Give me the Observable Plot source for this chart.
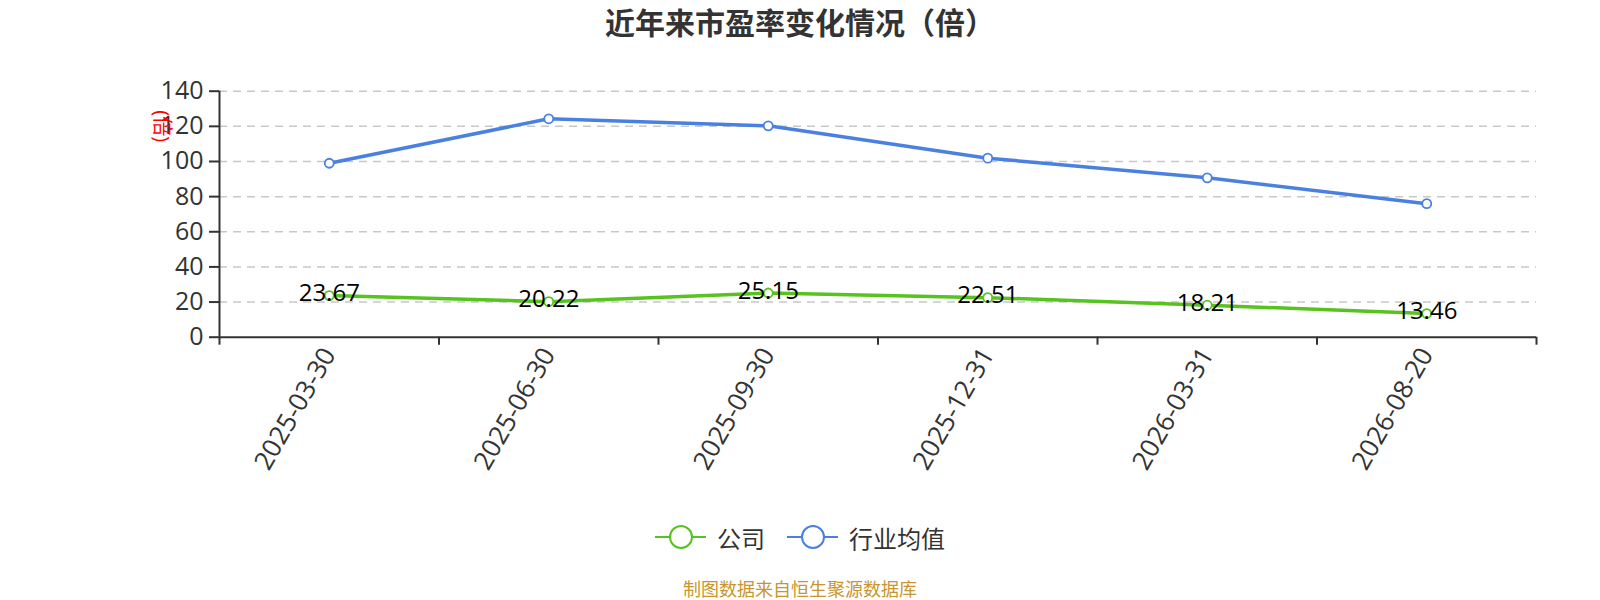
<!DOCTYPE html>
<html><head><meta charset="utf-8">
<script src="https://cdn.jsdelivr.net/npm/d3@7"></script>
<script src="https://cdn.jsdelivr.net/npm/@observablehq/plot@0.6"></script>
<style>
body{margin:0;background:#fff;font-family:"Open Sans","Noto Sans CJK SC",sans-serif;}
#wrap{position:relative;width:1600px;height:600px;overflow:hidden;background:#fff}
#title{position:absolute;left:0;top:0;width:1600px;height:42px;line-height:42px;text-align:center;font-size:30px;font-weight:bold;color:#333;font-family:"Noto Sans CJK SC",sans-serif}
#chart{position:absolute;left:0;top:50px}
#legend{position:absolute;left:0;top:516px;width:1600px;height:42px;display:flex;justify-content:center;align-items:center;font-size:24px;color:#333;font-family:"Noto Sans CJK SC",sans-serif}
.item{display:flex;align-items:center;margin:0 11px}
.sym{position:relative;width:51px;height:26px;margin-right:11px}
.sym .ln{position:absolute;left:0;top:12px;width:51px;height:2px}
.sym .cc{position:absolute;left:13.5px;top:1px;width:20px;height:20px;border-radius:50%;background:#fff;border:2px solid}
#caption{position:absolute;left:0;top:578px;width:1600px;height:20px;line-height:20px;text-align:center;font-size:18px;color:#c8952e;font-family:"Noto Sans CJK SC",sans-serif}
</style></head>
<body>
<div id="wrap">
  <div id="title"></div>
  <div id="chart"></div>
  <div id="legend"></div>
  <div id="caption"></div>
</div>
<script>
const titleText = "近年来市盈率变化情况（倍）";
const captionText = "制图数据来自恒生聚源数据库";
const yAxisName = "(倍)";
const dates = ["2025-03-30","2025-06-30","2025-09-30","2025-12-31","2026-03-31","2026-08-20"];
const company = [23.67, 20.22, 25.15, 22.51, 18.21, 13.46];
const industry = [99.0, 124.3, 120.3, 101.9, 90.7, 76.0];
const yTicks = [0, 20, 40, 60, 80, 100, 120, 140];
const seriesNames = ["公司", "行业均值"];
const seriesColors = ["#56c31e", "#4a80e0"];

document.getElementById("title").textContent = titleText;
document.getElementById("caption").textContent = captionText;

const idx = dates.map((d, i) => i);
const centers = idx.map(i => i + 0.5);
const boundaries = d3.range(dates.length + 1);

const chart = Plot.plot({
  width: 1600,
  height: 440,
  marginTop: 40.7,
  marginBottom: 153.3,
  marginLeft: 219,
  marginRight: 64,
  style: {fontFamily: '"Open Sans","Noto Sans CJK SC",sans-serif', background: "#fff"},
  x: {type: "linear", domain: [0, dates.length], axis: null},
  y: {domain: [0, 140], axis: null},
  marks: [
    Plot.ruleY(yTicks.filter(t => t > 0), {stroke: "#c8c8c8", strokeWidth: 1.5, strokeDasharray: "8,6"}),
    Plot.axisY({ticks: yTicks, tickSize: 10, tickPadding: 6, fontSize: 25, color: "#333", stroke: "#333", strokeWidth: 2, tickFormat: d => String(d)}),
    Plot.axisX({ticks: boundaries, tickSize: 8, tickFormat: () => "", stroke: "#333", strokeWidth: 2}),
    Plot.axisX({ticks: centers, tickSize: 0, tickPadding: 13, tickRotate: -60, fontSize: 26, color: "#333", tickFormat: d => dates[Math.round(d - 0.5)]}),
    Plot.ruleY([0], {stroke: "#333", strokeWidth: 2}),
    Plot.ruleX([0], {y1: 0, y2: 140, stroke: "#333", strokeWidth: 2}),
    Plot.text([yAxisName], {frameAnchor: "top-left", dx: -58, dy: 35, rotate: 90, text: d => d, fill: "red", fontSize: 20, textAnchor: "middle", lineAnchor: "middle"}),
    Plot.line(idx, {x: i => i + 0.5, y: i => industry[i], stroke: seriesColors[1], strokeWidth: 3.5}),
    Plot.line(idx, {x: i => i + 0.5, y: i => company[i], stroke: seriesColors[0], strokeWidth: 3.5}),
    Plot.dot(idx, {x: i => i + 0.5, y: i => industry[i], r: 4.5, fill: "#fff", stroke: seriesColors[1], strokeWidth: 1.8}),
    Plot.dot(idx, {x: i => i + 0.5, y: i => company[i], r: 4.5, fill: "#fff", stroke: seriesColors[0], strokeWidth: 1.8}),
    Plot.text(idx, {x: i => i + 0.5, y: i => company[i], text: i => company[i].toFixed(2), fontSize: 24, fill: "#000", dy: -2, textAnchor: "middle", lineAnchor: "middle"})
  ]
});
document.getElementById("chart").appendChild(chart);

const legend = document.getElementById("legend");
seriesNames.forEach((name, k) => {
  const item = document.createElement("div");
  item.className = "item";
  const sym = document.createElement("div");
  sym.className = "sym";
  const ln = document.createElement("div");
  ln.className = "ln"; ln.style.background = seriesColors[k];
  const cc = document.createElement("div");
  cc.className = "cc"; cc.style.borderColor = seriesColors[k];
  sym.appendChild(ln); sym.appendChild(cc);
  const label = document.createElement("span");
  label.textContent = name;
  item.appendChild(sym); item.appendChild(label);
  legend.appendChild(item);
});
</script>
</body></html>
